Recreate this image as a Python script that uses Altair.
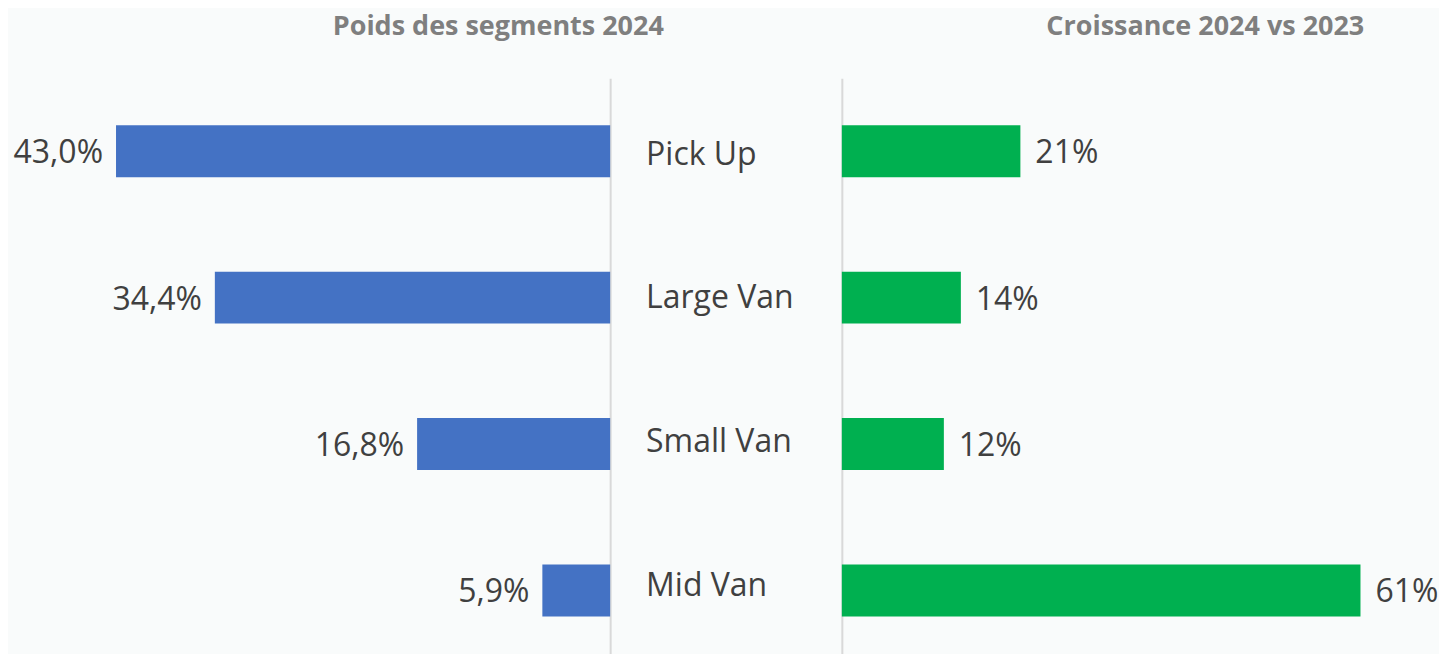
import altair as alt
import pandas as pd

categories = ["Pick Up", "Large Van", "Small Van", "Mid Van"]
weights_2024 = [43.0, 34.4, 16.8, 5.9]
growth_24_vs_23 = [21, 14, 12, 61]

df = pd.DataFrame({"segment": categories, "weight": weights_2024, "growth": growth_24_vs_23})
df["weight_label"] = [f"{v:.1f}".replace(".", ",") + "%" for v in weights_2024]
df["growth_label"] = [f"{v:d}%" for v in growth_24_vs_23]

H = 576
FONT = "Open Sans"
TXT = "#404040"


def yscale():
    return alt.Scale(domain=categories, paddingInner=0.645, paddingOuter=0.287, align=0.558)


def yaxis(orient):
    return alt.Axis(orient=orient, labels=False, ticks=False, title=None, grid=False,
                    domainColor="#d9d9d9", domainWidth=2)


base_l = alt.Chart(df).encode(
    y=alt.Y("segment:N", sort=categories, scale=yscale(), axis=yaxis("right")),
    x=alt.X("weight:Q", scale=alt.Scale(domain=[0, 52.4], reverse=True, nice=False), axis=None),
)
left = alt.layer(
    base_l.mark_bar(color="#4472C4"),
    base_l.mark_text(align="right", dx=-13, dy=2, fontSize=32, color=TXT, font=FONT).encode(text="weight_label:N"),
).properties(width=603, height=H,
             title=alt.TitleParams("Poids des segments 2024", dx=189.5))

mid = alt.Chart(df).mark_text(align="left", dy=-4, fontSize=32, color=TXT, font=FONT).encode(
    y=alt.Y("segment:N", sort=categories, scale=yscale(), axis=None),
    x=alt.value(36),
    text="segment:N",
).properties(width=232, height=H)

base_r = alt.Chart(df).encode(
    y=alt.Y("segment:N", sort=categories, scale=yscale(), axis=yaxis("left")),
    x=alt.X("growth:Q", scale=alt.Scale(domain=[0, 70.0], nice=False), axis=None),
)
right = alt.layer(
    base_r.mark_bar(color="#00B050"),
    base_r.mark_text(align="left", dx=15, dy=2, fontSize=32, color=TXT, font=FONT).encode(text="growth_label:N"),
).properties(width=596, height=H,
             title=alt.TitleParams("Croissance 2024 vs 2023", dx=66))

chart = alt.hconcat(left, mid, right, spacing=0, bounds="flush").properties(
    padding={"top": 5, "left": 0, "right": 0, "bottom": 0},
    background="#f9fbfb",
).configure_view(strokeWidth=0).configure_title(
    font=FONT, fontSize=27, fontWeight="bold", color="#7f7f7f", baseline="bottom", offset=37
)

chart.save("out.html", embed_options={"renderer": "svg", "actions": False})
